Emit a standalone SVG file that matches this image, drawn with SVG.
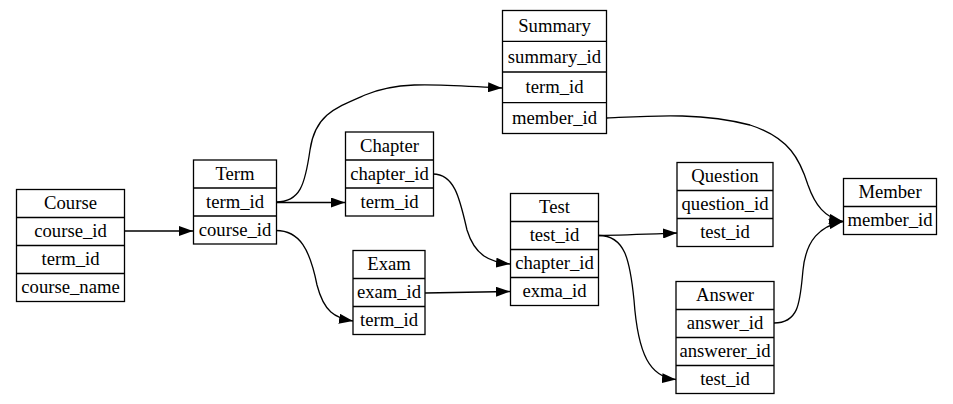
<svg xmlns="http://www.w3.org/2000/svg" width="953" height="404" viewBox="0 0 953 404">
<defs>
<style>
.box{fill:#fff;stroke:#000;stroke-width:1.3}
.sep{stroke:#000;stroke-width:1.3}
text{font-family:'Liberation Serif','Times New Roman',Times,'DejaVu Serif',serif;font-size:18.67px;fill:#000;text-anchor:middle}
.edge{fill:none;stroke:#000;stroke-width:1.3}
</style>
<marker id="arr" markerUnits="userSpaceOnUse" markerWidth="14" markerHeight="10" refX="14" refY="5" orient="auto">
<path d="M0,0 L14,5 L0,10 z" fill="#000"/>
</marker>
</defs>
<rect width="953" height="404" fill="#fff"/>
<g id="edges">
<path class="edge" marker-end="url(#arr)" d="M124,231 L193,231"/>
<path class="edge" marker-end="url(#arr)" d="M276,202.5 L345,202.5"/>
<path class="edge" marker-end="url(#arr)" d="M276,202 C300,202 305,185 310,150 C315,115 335,108 365,95 C400,80 440,85 502,88"/>
<path class="edge" marker-end="url(#arr)" d="M276,230.5 C300,230.5 310,250 317,285 C324,312 335,318 353,321"/>
<path class="edge" marker-end="url(#arr)" d="M433,174 C455,174 460,200 467,230 C475,256 490,262 510,264"/>
<path class="edge" marker-end="url(#arr)" d="M425,293 C450,292.5 480,292 510,291.5"/>
<path class="edge" marker-end="url(#arr)" d="M598,235.5 C625,235 650,234 677,233"/>
<path class="edge" marker-end="url(#arr)" d="M598,235.5 C625,235 630,260 634,300 C638,355 650,377 676,379.5"/>
<path class="edge" marker-end="url(#arr)" d="M607,118 C650,116 700,112 750,125 C790,138 800,160 808,185 C815,205 825,218 843,221.5"/>
<path class="edge" marker-end="url(#arr)" d="M774,323 C800,323 800,300 803,270 C806,240 820,226 843,221.5"/>
</g>
<g id="Course" font-family="Liberation Serif, Times New Roman, serif">
<rect class="box" x="16.5" y="189.5" width="108" height="112"/>
<line class="sep" x1="16.5" y1="217.5" x2="124.5" y2="217.5"/>
<line class="sep" x1="16.5" y1="245.5" x2="124.5" y2="245.5"/>
<line class="sep" x1="16.5" y1="273.5" x2="124.5" y2="273.5"/>
<text x="70.5" y="209">Course</text>
<text x="70.5" y="237">course_id</text>
<text x="70.5" y="265">term_id</text>
<text x="70.5" y="293">course_name</text>
</g>
<g id="Term">
<rect class="box" x="193.5" y="160" width="83" height="84"/>
<line class="sep" x1="193.5" y1="188" x2="276.5" y2="188"/>
<line class="sep" x1="193.5" y1="216" x2="276.5" y2="216"/>
<text x="235" y="179.5">Term</text>
<text x="235" y="207.5">term_id</text>
<text x="235" y="235.5">course_id</text>
</g>
<g id="Summary">
<rect class="box" x="502.5" y="10.5" width="104" height="123"/>
<line class="sep" x1="502.5" y1="41.3" x2="606.5" y2="41.3"/>
<line class="sep" x1="502.5" y1="72" x2="606.5" y2="72"/>
<line class="sep" x1="502.5" y1="102.7" x2="606.5" y2="102.7"/>
<text x="554.5" y="31.5">Summary</text>
<text x="554.5" y="62.5">summary_id</text>
<text x="554.5" y="93">term_id</text>
<text x="554.5" y="123.5">member_id</text>
</g>
<g id="Chapter">
<rect class="box" x="345.5" y="132" width="88" height="84"/>
<line class="sep" x1="345.5" y1="160" x2="433.5" y2="160"/>
<line class="sep" x1="345.5" y1="188" x2="433.5" y2="188"/>
<text x="389.5" y="151.5">Chapter</text>
<text x="389.5" y="179.5">chapter_id</text>
<text x="389.5" y="207.5">term_id</text>
</g>
<g id="Test">
<rect class="box" x="510.5" y="193.5" width="88" height="112"/>
<line class="sep" x1="510.5" y1="221.5" x2="598.5" y2="221.5"/>
<line class="sep" x1="510.5" y1="249.5" x2="598.5" y2="249.5"/>
<line class="sep" x1="510.5" y1="277.5" x2="598.5" y2="277.5"/>
<text x="554.5" y="213">Test</text>
<text x="554.5" y="241">test_id</text>
<text x="554.5" y="269">chapter_id</text>
<text x="554.5" y="297">exma_id</text>
</g>
<g id="Exam">
<rect class="box" x="353" y="250.5" width="72" height="84"/>
<line class="sep" x1="353" y1="278.5" x2="425" y2="278.5"/>
<line class="sep" x1="353" y1="306.5" x2="425" y2="306.5"/>
<text x="389" y="270">Exam</text>
<text x="389" y="298">exam_id</text>
<text x="389" y="326">term_id</text>
</g>
<g id="Question">
<rect class="box" x="677" y="162.5" width="96" height="84"/>
<line class="sep" x1="677" y1="190.5" x2="773" y2="190.5"/>
<line class="sep" x1="677" y1="218.5" x2="773" y2="218.5"/>
<text x="725" y="182">Question</text>
<text x="725" y="210">question_id</text>
<text x="725" y="238">test_id</text>
</g>
<g id="Member">
<rect class="box" x="843.5" y="178.5" width="93" height="56"/>
<line class="sep" x1="843.5" y1="206.5" x2="936.5" y2="206.5"/>
<text x="890" y="198">Member</text>
<text x="890" y="226">member_id</text>
</g>
<g id="Answer">
<rect class="box" x="676" y="281.5" width="98" height="112"/>
<line class="sep" x1="676" y1="309.5" x2="774" y2="309.5"/>
<line class="sep" x1="676" y1="337.5" x2="774" y2="337.5"/>
<line class="sep" x1="676" y1="365.5" x2="774" y2="365.5"/>
<text x="725" y="301">Answer</text>
<text x="725" y="329">answer_id</text>
<text x="725" y="357">answerer_id</text>
<text x="725" y="385">test_id</text>
</g>
</svg>
